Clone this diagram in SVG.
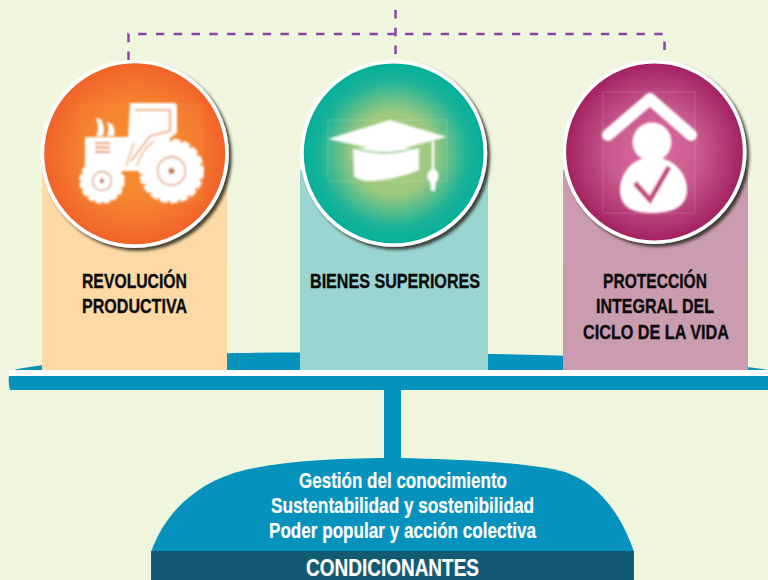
<svg xmlns="http://www.w3.org/2000/svg" width="768" height="580" viewBox="0 0 768 580">
<style>
.lbl{font-family:"Liberation Sans",Arial,sans-serif;font-weight:700;font-size:21px;fill:#0c0c0c;stroke:#0c0c0c;stroke-width:.35}
.cond{font-family:"Liberation Sans",Arial,sans-serif;font-weight:700;font-size:21.500px;fill:#fff;stroke:#fff;stroke-width:.2}
.disc{stroke:#fff;stroke-width:3.6;filter:url(#sh)}
.w{fill:#fff}
.box{fill:none;stroke:#fff;stroke-opacity:.22;stroke-width:.7}
.dash{fill:none;stroke:#8b43a6;stroke-width:2.500;stroke-dasharray:8.400 9.400}
.blue{fill:#0592bd}
.panel{fill:#f1f6e0}
</style>
<defs>
<filter id="sh" x="-15%" y="-15%" width="130%" height="130%"><feDropShadow dx="3" dy="3" stdDeviation="1.800" flood-color="#2b2b20" flood-opacity=".85"/></filter>
<filter id="soft" x="-10%" y="-10%" width="120%" height="120%"><feGaussianBlur stdDeviation=".9"/></filter>
<radialGradient id="g1"><stop offset="0" stop-color="#f68f2e"/><stop offset=".55" stop-color="#f5822f"/><stop offset="1" stop-color="#f2622b"/></radialGradient>
<radialGradient id="g2"><stop offset="0" stop-color="#b5cf80"/><stop offset=".45" stop-color="#9cc87f"/><stop offset=".8" stop-color="#1cb398"/><stop offset="1" stop-color="#00af99"/></radialGradient>
<radialGradient id="g3"><stop offset="0" stop-color="#df6aa0"/><stop offset=".5" stop-color="#c95a8e"/><stop offset="1" stop-color="#a2205f"/></radialGradient>
</defs>
<rect width="768" height="580" fill="#f0f5de"/>

<g id="base">
<path class="blue" d="M14 370C60 360 180 352.500 300 352.500C400 352 560 354 650 359C700 362 740 365 768 370Z"/>
<rect x="9" y="370" width="759" height="6" fill="#fff"/>
<path class="blue" d="M9 376H768V390H10Q8 383 9 376Z"/>
<rect class="blue" x="384" y="388" width="17" height="74"/>
</g>

<g id="connectors">
<path class="dash" d="M128.500 60V34H664.500V55"/>
<path class="dash" d="M395.500 10V60"/>
</g>

<g id="node-revolucion">
<rect class="panel" x="42" y="60" width="189" height="200"/>
<rect x="42" y="170" width="185" height="200" fill="#fdd9a5"/>
<circle class="disc" fill="url(#g1)" cx="134.700" cy="153.800" r="92.300"/>
<rect x="80" y="103" width="124" height="98" fill="#f68a33" opacity=".3"/>
<g filter="url(#soft)">
<path class="w" d="M130 103H174Q177 103 177 107V133L166 141L152 165V170H125L128 137Z"/>
<rect class="w" x="85" y="137" width="43" height="34"/>
<path class="w" d="M96 136Q100 128 96 118L101 119Q106 128 103 136ZM106 136Q110 130 107 122L112 124Q116 130 114 136Z"/>
<rect class="w" x="120" y="165" width="30" height="6"/>
<circle cx="171.500" cy="171" r="30" class="w"/>
<circle cx="171.500" cy="171" r="31" fill="none" stroke="#fff" stroke-width="3" stroke-dasharray="8 2.500"/>
<circle cx="102" cy="181" r="21" class="w"/>
<circle cx="102" cy="181" r="21.500" fill="none" stroke="#fff" stroke-width="2.500" stroke-dasharray="6 2.500"/>
<path d="M135 110H170V131L150 136L131 161" fill="none" stroke="#e98a3a" stroke-width="1.400"/>
<path d="M126 166L134 143M137 166Q141 150 154 141" fill="none" stroke="#e9a24a" stroke-width="1.300"/>
<path d="M95 143H110M95 147.500H110M95 152H110" stroke="#ec8a50" stroke-width="1.800" fill="none"/>
<circle cx="171.500" cy="171" r="14" fill="none" stroke="#e0976a" stroke-width="1.400"/>
<circle cx="171.500" cy="171" r="3.200" fill="#c0855a"/>
<circle cx="102" cy="181" r="9.500" fill="none" stroke="#d99a75" stroke-width="1.400"/>
<circle cx="102" cy="181" r="2.400" fill="#b98565"/>
</g>
<text class="lbl" x="82" y="287.500" textLength="105" lengthAdjust="spacingAndGlyphs">REVOLUCIÓN</text>
<text class="lbl" x="82" y="313" textLength="105" lengthAdjust="spacingAndGlyphs">PRODUCTIVA</text>
</g>

<g id="node-bienes">
<rect class="panel" x="300" y="60" width="191" height="200"/>
<rect x="300" y="170" width="188" height="200" fill="#9ad5d2"/>
<circle class="disc" fill="url(#g2)" cx="393.700" cy="153.300" r="91.700"/>
<rect class="box" x="328" y="120" width="119" height="61"/>
<g filter="url(#soft)">
<path class="w" d="M353 148H419V170Q395 180 372 181Q358 181 354 176Z"/>
<path d="M353 148Q386 158 419 147" fill="none" stroke="#8fc48a" stroke-width="1.800"/>
<path class="w" d="M328 139L390 120L447 137L388 152Z"/>
<path d="M433 141V172" stroke="#fff" stroke-width="2.400"/>
<ellipse class="w" cx="433" cy="176" rx="5.500" ry="7"/>
<path class="w" d="M430 180H436L435 191H431Z"/>
</g>
<text class="lbl" x="310" y="288" textLength="170" lengthAdjust="spacingAndGlyphs">BIENES SUPERIORES</text>
</g>

<g id="node-proteccion">
<rect class="panel" x="562" y="60" width="189" height="200"/>
<rect x="563" y="170" width="185" height="200" fill="#cb9bb0"/>
<circle class="disc" fill="url(#g3)" cx="654.500" cy="152" r="90.200"/>
<rect class="box" x="603" y="92" width="92" height="121"/>
<g filter="url(#soft)">
<path d="M608 135L650 99L691 135" fill="none" stroke="#fff" stroke-width="12" stroke-linecap="round" stroke-linejoin="round"/>
<circle class="w" cx="652" cy="142" r="19.500"/>
<path class="w" d="M652 157C672 157 687 172 687 190C687 207 672 213 652 213C632 213 620 207 620 190C620 172 634 157 652 157Z"/>
<path d="M635 183L650 200L669 167" fill="none" stroke="#c2457f" stroke-width="5"/>
</g>
<text class="lbl" x="603" y="287.500" textLength="104" lengthAdjust="spacingAndGlyphs">PROTECCIÓN</text>
<text class="lbl" x="596" y="313" textLength="118" lengthAdjust="spacingAndGlyphs">INTEGRAL DEL</text>
<text class="lbl" x="583" y="339" textLength="146" lengthAdjust="spacingAndGlyphs">CICLO DE LA VIDA</text>
</g>

<g id="node-condicionantes">
<path class="blue" d="M151 552C165 512 198 481 245 470C290 460 340 458 400 458C450 459 530 462 565 472C595 482 620 510 634 552Z"/>
<rect x="151" y="551" width="483" height="29" fill="#135b72"/>
<text class="cond" x="299" y="488" textLength="208" lengthAdjust="spacingAndGlyphs">Gestión del conocimiento</text>
<text class="cond" x="271" y="513" textLength="263" lengthAdjust="spacingAndGlyphs">Sustentabilidad y sostenibilidad</text>
<text class="cond" x="269" y="538" textLength="267" lengthAdjust="spacingAndGlyphs">Poder popular y acción colectiva</text>
<text class="cond" style="font-size:24px" x="306" y="576" textLength="173" lengthAdjust="spacingAndGlyphs">CONDICIONANTES</text>
</g>
</svg>
